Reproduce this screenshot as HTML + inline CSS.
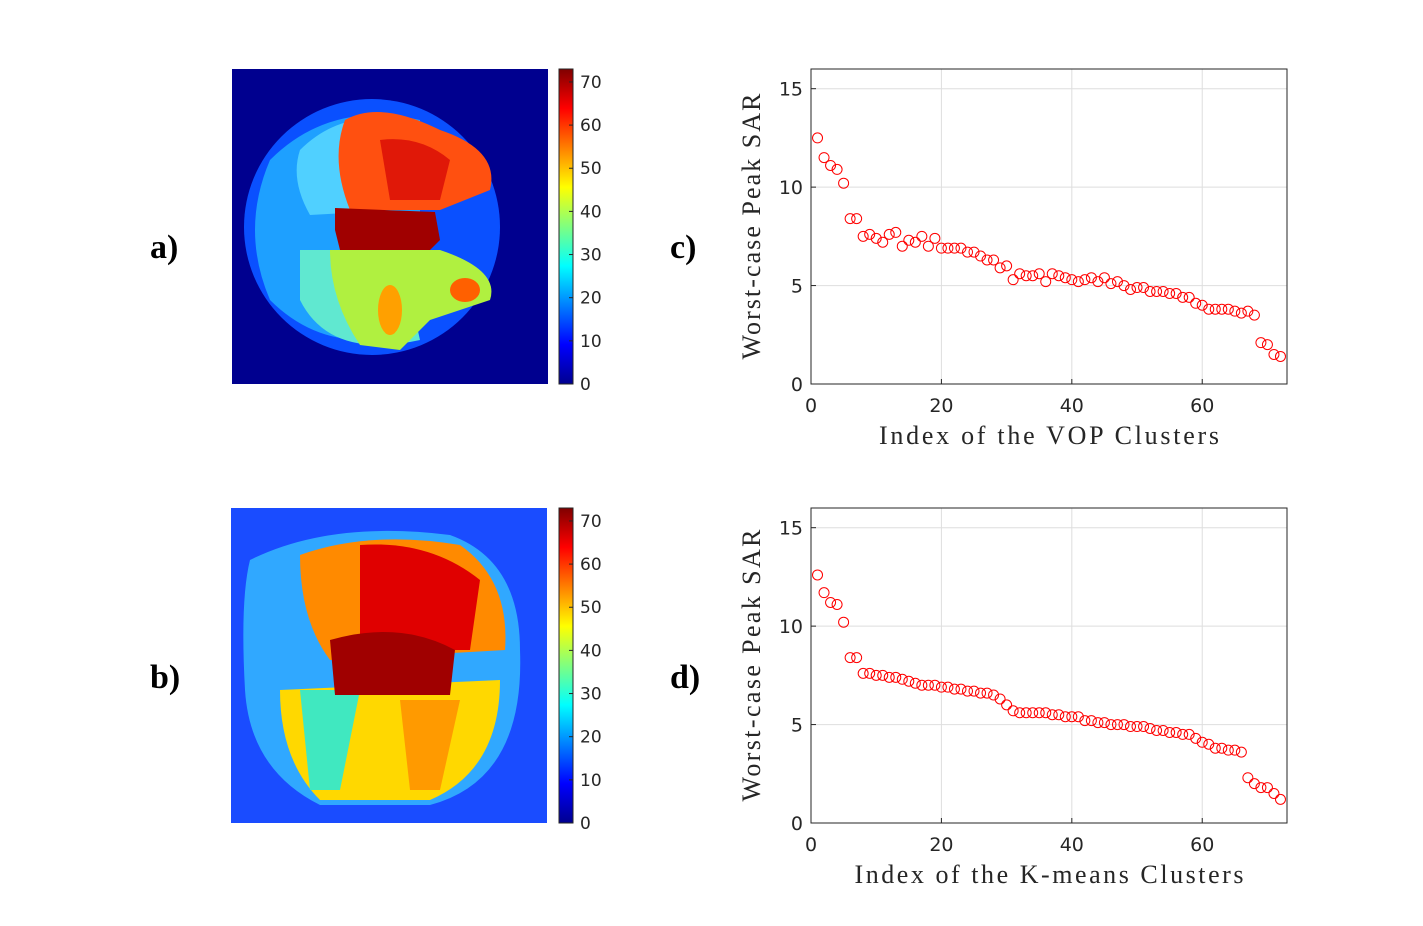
<!DOCTYPE html>
<html><head><meta charset="utf-8">
<style>
body{margin:0;background:#fff;width:1423px;height:926px;overflow:hidden;font-family:"DejaVu Sans",sans-serif}
svg{position:absolute;left:0;top:0}
</style></head>
<body>
<svg width="1423" height="926">
<defs>
<linearGradient id="jet" x1="0" y1="1" x2="0" y2="0">
<stop offset="0" stop-color="#00008f"/><stop offset="0.125" stop-color="#0000ff"/><stop offset="0.375" stop-color="#00ffff"/><stop offset="0.625" stop-color="#ffff00"/><stop offset="0.875" stop-color="#ff0000"/><stop offset="1" stop-color="#800000"/>
</linearGradient>
</defs>
<g id="panelA">
<rect x="232" y="69" width="316" height="315" fill="#00008f"/>
<ellipse cx="372" cy="227" rx="128" ry="128" fill="#0a50ff"/>
<path d="M270 160 Q330 100 420 120 L420 330 Q330 360 270 300 Q240 230 270 160Z" fill="#1ea0ff"/>
<path d="M300 150 Q340 110 400 120 L400 210 L310 215 Q290 180 300 150Z" fill="#50d0ff"/>
<path d="M300 250 L400 250 L420 340 Q330 360 300 300Z" fill="#60e8d0"/>
<path d="M345 120 Q380 100 440 130 Q500 150 490 190 L440 210 L350 210 Q330 160 345 120Z" fill="#ff5010"/>
<path d="M380 140 Q420 135 450 160 L440 200 L390 200Z" fill="#e01808"/>
<path d="M330 250 L440 250 Q500 270 490 300 L430 320 L400 350 L360 345 Q330 300 330 250Z" fill="#b0f040"/>
<ellipse cx="390" cy="310" rx="12" ry="25" fill="#ffa000"/>
<ellipse cx="465" cy="290" rx="15" ry="12" fill="#ff6000"/>
<path d="M335 208 L435 212 L440 240 L430 250 L340 250 L335 230Z" fill="#a00000"/>
</g>
<g>
<rect x="559" y="69" width="14" height="315" fill="url(#jet)" stroke="#262626" stroke-width="1"/>
</g>
<g id="panelB">
<rect x="231" y="508" width="316" height="315" fill="#1a4cff"/>
<path d="M250 560 Q330 520 450 535 Q520 560 520 650 Q525 780 430 805 L320 805 Q250 770 245 690 Q240 600 250 560Z" fill="#30a8ff"/>
<path d="M300 555 Q370 530 460 545 Q510 580 505 650 L330 660 Q300 620 300 555Z" fill="#ff8a00"/>
<path d="M360 545 Q430 540 480 580 L470 650 L360 650Z" fill="#e00000"/>
<path d="M280 690 L500 680 Q500 770 430 800 L320 800 Q280 760 280 690Z" fill="#ffd800"/>
<path d="M300 690 L360 690 L340 790 L310 790Z" fill="#40e8c0"/>
<path d="M400 700 L460 700 L440 790 L410 790Z" fill="#ff9a00"/>
<path d="M330 640 Q400 620 455 650 L450 695 L335 695Z" fill="#a00000"/>
</g>
<g>
<rect x="559" y="508" width="14" height="315" fill="url(#jet)" stroke="#262626" stroke-width="1"/>
</g>
<g id="cbticks" fill="#262626" font-size="17"></g>
<g font-family="Liberation Serif,serif" font-weight="bold" font-size="34" fill="#000">
<text x="150" y="258">a)</text>
<text x="150" y="688">b)</text>
<text x="670" y="258">c)</text>
<text x="670" y="688">d)</text>
</g>
<g id="chartC"></g>
<g id="chartD"></g>
</svg>
<script>
const cbTicks=[0,10,20,30,40,50,60,70];
const cbMax=73;
const xTicks=[0,20,40,60];
const yTicks=[0,5,10,15];
const seriesC=[12.5,11.5,11.1,10.9,10.2,8.4,8.4,7.5,7.6,7.4,7.2,7.6,7.7,7.0,7.3,7.2,7.5,7.0,7.4,6.9,6.9,6.9,6.9,6.7,6.7,6.5,6.3,6.3,5.9,6.0,5.3,5.6,5.5,5.5,5.6,5.2,5.6,5.5,5.4,5.3,5.2,5.3,5.4,5.2,5.4,5.1,5.2,5.0,4.8,4.9,4.9,4.7,4.7,4.7,4.6,4.6,4.4,4.4,4.1,4.0,3.8,3.8,3.8,3.8,3.7,3.6,3.7,3.5,2.1,2.0,1.5,1.4];
const seriesD=[12.6,11.7,11.2,11.1,10.2,8.4,8.4,7.6,7.6,7.5,7.5,7.4,7.4,7.3,7.2,7.1,7.0,7.0,7.0,6.9,6.9,6.8,6.8,6.7,6.7,6.6,6.6,6.5,6.3,6.0,5.7,5.6,5.6,5.6,5.6,5.6,5.5,5.5,5.4,5.4,5.4,5.2,5.2,5.1,5.1,5.0,5.0,5.0,4.9,4.9,4.9,4.8,4.7,4.7,4.6,4.6,4.5,4.5,4.3,4.1,4.0,3.8,3.8,3.7,3.7,3.6,2.3,2.0,1.8,1.8,1.5,1.2];
const xLabelC="Index of the VOP Clusters";
const xLabelD="Index of the K-means Clusters";
const NS="http://www.w3.org/2000/svg";
function mk(tag,attrs,parent){const e=document.createElementNS(NS,tag);for(const k in attrs)e.setAttribute(k,attrs[k]);parent.appendChild(e);return e;}
const cbg=document.getElementById('cbticks');
[[69,384],[508,823]].forEach(([top,bot])=>{
  cbTicks.forEach(v=>{
    const y=bot-(v/cbMax)*(bot-top);
    const l=mk('line',{x1:569,x2:573,y1:y,y2:y,stroke:'#262626'},cbg);
    
    
    const t=mk('text',{x:580,y:y+6},cbg);
    
    
    t.textContent=v;
  });
});
function chart(g,top,bot,data,xlabel,xlen,ylen){
  const L=811,R=1287,xmax=73,ymax=16;
  const xs=v=>L+v/xmax*(R-L), ys=v=>bot-v/ymax*(bot-top);
  mk('rect',{x:L,y:top,width:R-L,height:bot-top,fill:'#fff'},g);
  xTicks.forEach(v=>{
    if(v>0){const gl=mk('line',{x1:xs(v),x2:xs(v),y1:top,y2:bot,stroke:'#dedede'},g);}
    const tk=mk('line',{x1:xs(v),x2:xs(v),y1:bot,y2:bot-5,stroke:'#262626'},g);
    
    const t=mk('text',{x:xs(v),y:bot+28,'text-anchor':'middle','font-size':19,fill:'#262626'},g);
    
    t.textContent=v;
  });
  yTicks.forEach(v=>{
    if(v>0){const gl=mk('line',{x1:L,x2:R,y1:ys(v),y2:ys(v),stroke:'#dedede'},g);}
    const tk=mk('line',{x1:L,x2:L+5,y1:ys(v),y2:ys(v),stroke:'#262626'},g);
    
    const t=mk('text',{x:L-8,y:ys(v)+7,'text-anchor':'end','font-size':19,fill:'#262626'},g);
    
    t.textContent=v;
  });
  const box=mk('rect',{x:L,y:top,width:R-L,height:bot-top,fill:'none',stroke:'#262626'},g);
  
  data.forEach((v,i)=>{
    const c=mk('circle',{cx:xs(i+1),cy:ys(v),r:5,fill:'none',stroke:'#ff0000','stroke-width':1},g);
    
    
  });
  const xl=mk('text',{x:(L+R)/2-xlen/2,y:bot+60,'font-size':26,'font-family':'Liberation Serif,serif',fill:'#262626',textLength:xlen,lengthAdjust:'spacing'},g);
  
  xl.textContent=xlabel;
  const cy=(top+bot)/2;
  const yl=mk('text',{x:-ylen/2,y:0,transform:`translate(760,${cy}) rotate(-90)`,'font-size':26,'font-family':'Liberation Serif,serif',fill:'#262626',textLength:ylen,lengthAdjust:'spacing'},g);
  
  yl.textContent='Worst-case Peak SAR';
}
chart(document.getElementById('chartC'),69,384,seriesC,xLabelC,340,266);
chart(document.getElementById('chartD'),508,823,seriesD,xLabelD,389,272);
</script>
</body></html>
